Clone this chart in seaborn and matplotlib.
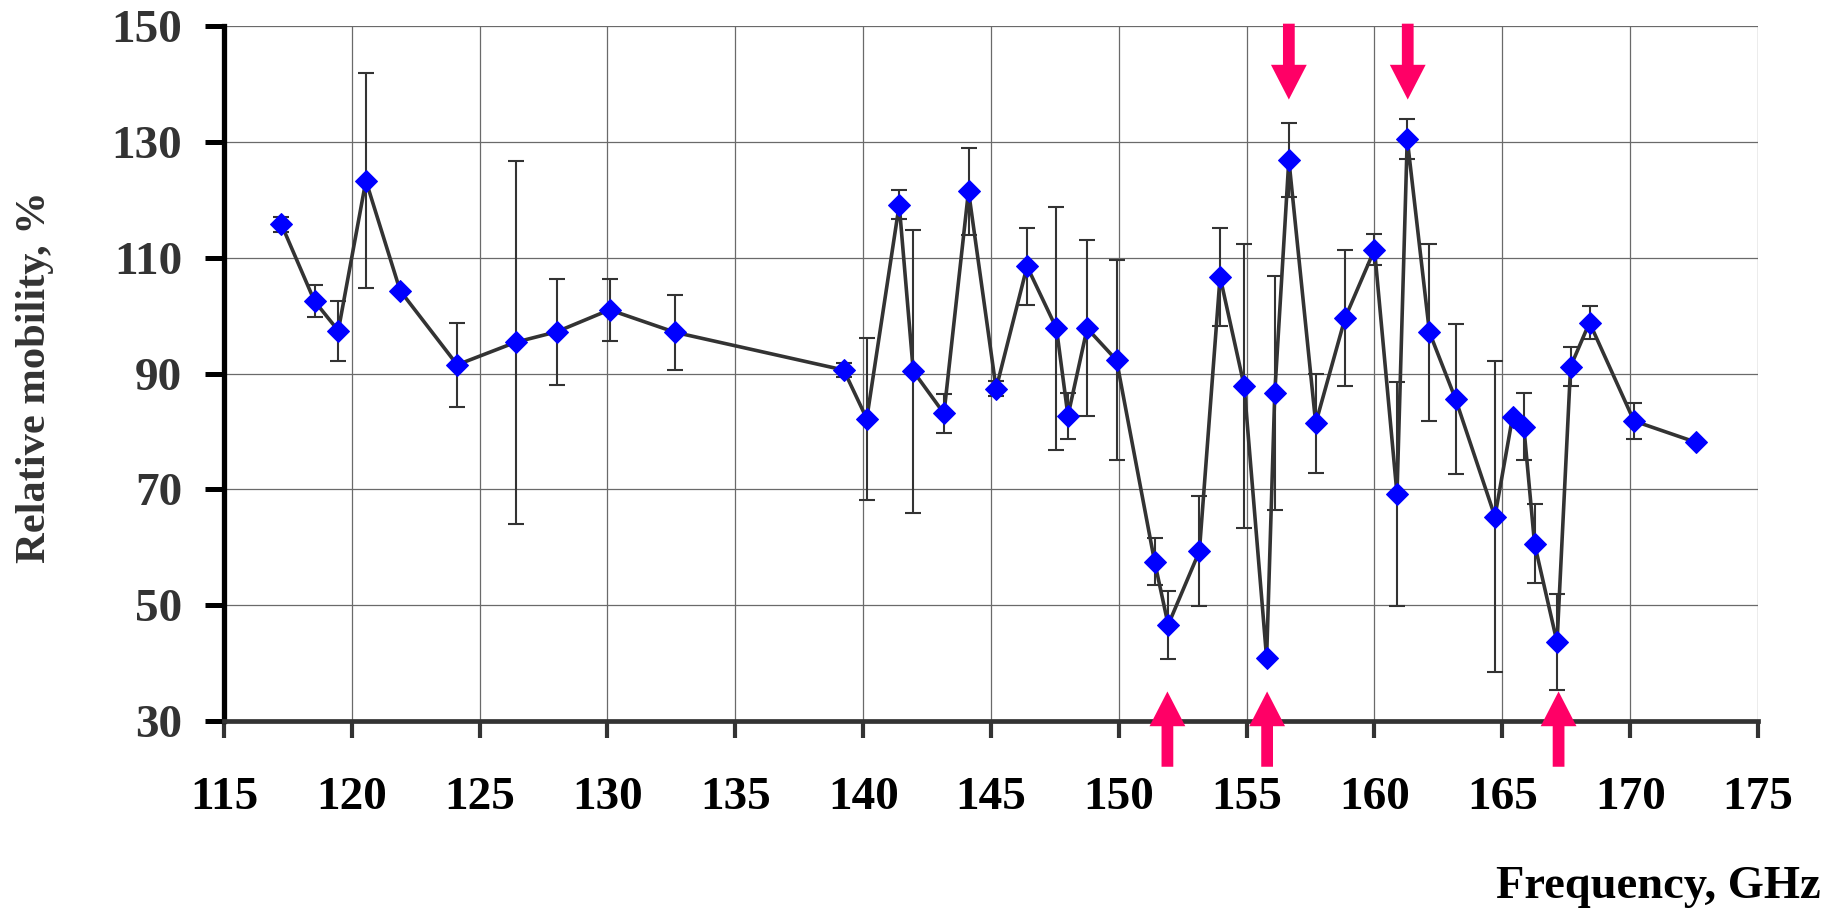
import numpy as np
import pandas as pd
import matplotlib
matplotlib.use("Agg")
import matplotlib.pyplot as plt
import seaborn as sns

# ---- data ----
freq = [117.24, 118.54, 119.47, 120.55, 121.89, 124.12, 126.41, 128.01, 130.08, 132.65,
        139.24, 140.14, 141.41, 141.96, 143.16, 144.12, 145.20, 146.41, 147.56, 148.01,
        148.76, 149.91, 151.40, 151.93, 153.15, 153.96, 154.90, 155.78, 156.10, 156.65,
        157.70, 158.85, 160.00, 160.88, 161.28, 162.15, 163.17, 164.71, 165.40, 165.84,
        166.26, 167.14, 167.67, 168.41, 170.15, 172.59]
mobility = [115.8, 102.5, 97.4, 123.3, 104.3, 91.5, 95.4, 97.2, 101.0, 97.1,
            90.6, 82.2, 119.1, 90.4, 83.1, 121.5, 87.4, 108.5, 97.8, 82.7,
            97.8, 92.3, 57.5, 46.6, 59.3, 106.7, 87.9, 40.9, 86.7, 126.9,
            81.4, 99.6, 111.4, 69.2, 130.5, 97.1, 85.6, 65.3, 82.5, 80.8,
            60.6, 43.6, 91.2, 98.8, 81.8, 78.1]
error = [1.3, 2.8, 5.2, 18.5, np.nan, 7.2, 31.3, 9.1, 5.4, 6.5,
         1.2, 14.0, 2.5, 24.4, 3.4, 7.5, 1.3, 6.7, 21.0, 4.0,
         15.2, 17.3, 4.1, 5.9, 9.5, 8.5, 24.5, np.nan, 20.2, 6.4,
         8.6, 11.7, 2.7, 19.3, 3.4, 15.3, 13.0, 26.8, np.nan, 5.8,
         6.8, 8.3, 3.3, 2.9, 3.1, np.nan]

arrow_down_x = [156.65, 161.3]
arrow_up_x = [151.9, 155.8, 167.2]

x_ticks = [115, 120, 125, 130, 135, 140, 145, 150, 155, 160, 165, 170, 175]
y_ticks = [30, 50, 70, 90, 110, 130, 150]

df = pd.DataFrame({"freq": freq, "mobility": mobility, "error": error})

# ---- style ----
sns.set_theme(style="white")
plt.rcParams["font.family"] = ["Liberation Serif", "DejaVu Serif"]
plt.rcParams["font.weight"] = "bold"

fig = plt.figure(figsize=(18.41, 9.10), dpi=100)
ax = fig.add_axes([224 / 1841, 1 - 721 / 910, (1758 - 224) / 1841, (721 - 26) / 910])

# error bars
m = df["error"].notna()
ax.errorbar(df.loc[m, "freq"], df.loc[m, "mobility"], yerr=df.loc[m, "error"],
            fmt="none", ecolor="#333333", elinewidth=1.5, capsize=6, capthick=1.5,
            zorder=2)

# line + markers
sns.lineplot(data=df, x="freq", y="mobility", sort=False, ax=ax,
             color="#333333", linewidth=2.6, marker="D", markersize=11,
             markerfacecolor="#0000FF", markeredgecolor="#0000FF", zorder=3)

# arrows
pink = "#FF0066"
for xa in arrow_down_x:
    ax.arrow(xa, 150.4, 0, -13.1, width=0.46, head_width=1.40, head_length=6.0,
             length_includes_head=True, color=pink, lw=0, clip_on=False, zorder=5)
for xa in arrow_up_x:
    ax.arrow(xa, 22.1, 0, 13.0, width=0.46, head_width=1.40, head_length=6.0,
             length_includes_head=True, color=pink, lw=0, clip_on=False, zorder=5)

ax.set_xlim(115, 175)
ax.set_ylim(30, 150)
ax.set_xticks(x_ticks)
ax.set_yticks(y_ticks)
ax.set_xlabel("")
ax.set_ylabel("")

ax.grid(True, color="#6a6a6a", linewidth=0.9)
ax.set_axisbelow(True)

for s in ["top", "right"]:
    ax.spines[s].set_visible(False)
ax.spines["left"].set_color("black")
ax.spines["left"].set_linewidth(3.8)
ax.spines["bottom"].set_color("#333333")
ax.spines["bottom"].set_linewidth(3.4)

ax.tick_params(axis="y", direction="out", length=14, width=3.6, color="black",
               labelsize=34, pad=16, labelcolor="#333333", left=True)
ax.tick_params(axis="x", direction="out", length=12, width=3.0, color="#333333",
               labelsize=34, pad=28, labelcolor="black", bottom=True)
for lab in ax.get_xticklabels() + ax.get_yticklabels():
    lab.set_fontweight("bold")

fig.text(35 / 1841, 1 - 377 / 910, "Relative mobility, %", rotation=90,
         ha="center", va="center", fontsize=30.6, fontweight="bold", color="#333333")
fig.text(1821 / 1841, 1 - 898 / 910, "Frequency, GHz", ha="right", va="baseline",
         fontsize=33.5, fontweight="bold", color="black")

fig.savefig("out.png", dpi=100, facecolor="white")
